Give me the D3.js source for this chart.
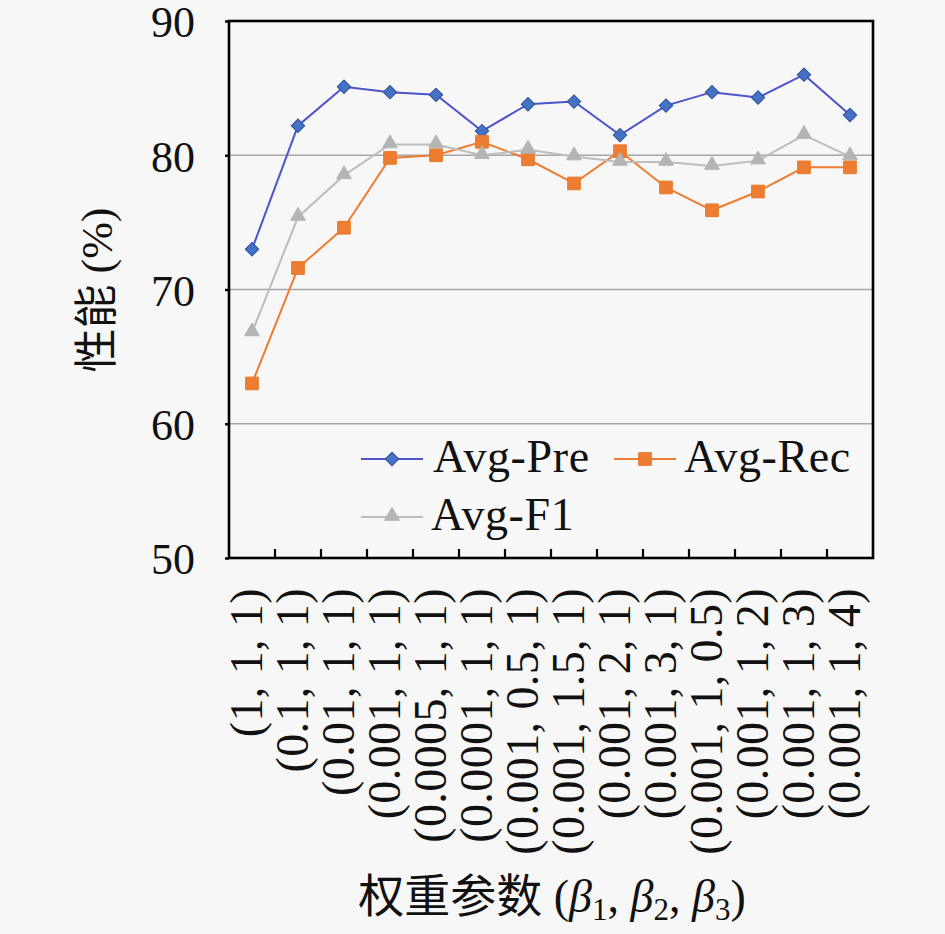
<!DOCTYPE html>
<html>
<head>
<meta charset="utf-8">
<script src="https://cdn.jsdelivr.net/npm/d3@7"></script>
<style>
  html, body { margin: 0; padding: 0; background: #f7f7f7; }
  svg { display: block; }
  svg text { font-family: "Liberation Serif", "Times New Roman", Tinos, "DejaVu Serif", serif, "Noto Sans CJK SC"; fill: #111; }
  svg text.cjk { font-family: "Liberation Serif", "DejaVu Serif", serif, "Noto Sans CJK SC"; }
</style>
</head>
<body>
<svg id="chart" width="945" height="934"></svg>
<script>
// ---- data ----
const categories = [
  "(1, 1, 1)", "(0.1, 1, 1)", "(0.01, 1, 1)", "(0.001, 1, 1)", "(0.0005, 1, 1)",
  "(0.0001, 1, 1)", "(0.001, 0.5, 1)", "(0.001, 1.5, 1)", "(0.001, 2, 1)",
  "(0.001, 3, 1)", "(0.001, 1, 0.5)", "(0.001, 1, 2)", "(0.001, 1, 3)", "(0.001, 1, 4)"
];
const avgPre = [73.0, 82.2, 85.1, 84.7, 84.5, 81.8, 83.8, 84.0, 81.5, 83.7, 84.7, 84.3, 86.0, 83.0];
const avgRec = [63.0, 71.6, 74.6, 79.8, 80.0, 81.0, 79.7, 77.9, 80.3, 77.6, 75.9, 77.3, 79.1, 79.1];
const avgF1  = [66.8, 75.4, 78.5, 80.8, 80.8, 80.0, 80.4, 79.9, 79.5, 79.5, 79.2, 79.6, 81.5, 79.9];
const yTicks = [50, 60, 70, 80, 90];
const gridValues = [60, 70, 80];
const seriesNames = ["Avg-Pre", "Avg-Rec", "Avg-F1"];

// ---- layout ----
const W = 945, H = 934;
const margin = { left: 229, top: 21, right: 72, bottom: 376 };
const innerW = W - margin.left - margin.right;
const innerH = H - margin.top - margin.bottom;
const FONT = '"Liberation Serif", "Times New Roman", Tinos, "DejaVu Serif", serif';

const svg = d3.select("#chart");
svg.append("rect").attr("width", W).attr("height", H).attr("fill", "#f7f7f7");

const g = svg.append("g").attr("transform", `translate(${margin.left},${margin.top})`);

const x = d3.scaleBand().domain(categories).range([0, innerW]).padding(0);
const y = d3.scaleLinear().domain([50, 90]).range([innerH, 0]);
const cx = c => x(c) + x.bandwidth() / 2;

// gridlines
g.append("g").selectAll("line").data(gridValues).join("line")
  .attr("x1", 0).attr("x2", innerW)
  .attr("y1", d => y(d)).attr("y2", d => y(d))
  .attr("stroke", "#a6a6a6").attr("stroke-width", 1.6);

// y axis
const yAxis = g.append("g").call(
  d3.axisLeft(y).tickValues(yTicks).tickSize(4).tickPadding(30).tickFormat(d3.format("d"))
);
yAxis.attr("font-family", FONT);
yAxis.select(".domain").remove();
yAxis.selectAll(".tick line").attr("stroke", "#000").attr("stroke-width", 2.5);
yAxis.selectAll(".tick text")
  .attr("font-family", FONT)
  .attr("font-size", 44).attr("fill", "#111").attr("dy", "0.36em");

// x axis ticks: inward at category boundaries
const boundaries = categories.slice(1).map(c => x(c));
g.append("g").selectAll("line").data(boundaries).join("line")
  .attr("x1", d => d).attr("x2", d => d)
  .attr("y1", innerH).attr("y2", innerH - 9)
  .attr("stroke", "#000").attr("stroke-width", 2.2);

// frame
g.append("rect").attr("x", 0).attr("y", 0).attr("width", innerW).attr("height", innerH)
  .attr("fill", "none").attr("stroke", "#000").attr("stroke-width", 2.6);

// x labels
g.append("g").selectAll("text").data(categories).join("text")
  .attr("transform", d => `translate(${cx(d) - 2},${innerH + 30}) rotate(-90)`)
  .attr("text-anchor", "end")
  .attr("dy", "0.27em")
  .attr("font-family", FONT)
  .attr("font-size", 46)
  .attr("letter-spacing", 0.4)
  .text(d => d);

// series definitions
const series = [
  { name: seriesNames[0], values: avgPre, line: "#4b55c9", fill: "#4472c4", stroke: "#2f4f9a", shape: "diamond" },
  { name: seriesNames[1], values: avgRec, line: "#ed7d31", fill: "#ed7d31", stroke: "#e8772c", shape: "square" },
  { name: seriesNames[2], values: avgF1,  line: "#bdbdbd", fill: "#b4b4b4", stroke: "#b4b4b4", shape: "triangle" }
];

function symbolPath(shape) {
  if (shape === "diamond") return d3.symbol().type(d3.symbolSquare).size(90)();
  if (shape === "square") return d3.symbol().type(d3.symbolSquare).size(160)();
  return d3.symbol().type(d3.symbolTriangle).size(95)();
}
function symbolTransform(shape, px, py) {
  if (shape === "diamond") return `translate(${px},${py}) rotate(45)`;
  if (shape === "triangle") return `translate(${px},${py - 1})`;
  return `translate(${px},${py})`;
}

const line = d3.line().x((d, i) => cx(categories[i])).y(d => y(d));

series.forEach(s => {
  const sg = g.append("g");
  sg.append("path").datum(s.values)
    .attr("d", line).attr("fill", "none")
    .attr("stroke", s.line).attr("stroke-width", 2);
  sg.selectAll("path.m").data(s.values).join("path")
    .attr("class", "m")
    .attr("d", symbolPath(s.shape))
    .attr("transform", (d, i) => symbolTransform(s.shape, cx(categories[i]), y(d)))
    .attr("fill", s.fill).attr("stroke", s.stroke).attr("stroke-width", 1);
});

// legend
const legendItems = [
  { s: series[0], lx: 361, ly: 459, tx: 433 },
  { s: series[1], lx: 614, ly: 459, tx: 684 },
  { s: series[2], lx: 361, ly: 517, tx: 431 }
];
const lg = svg.append("g");
lg.append("rect").attr("x", 346).attr("y", 432).attr("width", 525).attr("height", 114)
  .attr("fill", "#f8f8f8");
legendItems.forEach(it => {
  lg.append("line").attr("x1", it.lx).attr("x2", it.lx + 62)
    .attr("y1", it.ly).attr("y2", it.ly)
    .attr("stroke", it.s.line).attr("stroke-width", 2);
  lg.append("path").attr("d", symbolPath(it.s.shape))
    .attr("transform", symbolTransform(it.s.shape, it.lx + 31, it.ly))
    .attr("fill", it.s.fill).attr("stroke", it.s.stroke).attr("stroke-width", 1);
  lg.append("text").attr("x", it.tx).attr("y", it.ly + 13)
    .attr("font-family", FONT)
    .attr("font-size", 46).attr("letter-spacing", 0.6).text(it.s.name);
});

// y title
svg.append("text")
  .attr("class", "cjk")
  .attr("transform", `translate(97,290) rotate(-90)`)
  .attr("text-anchor", "middle").attr("dy", "0.35em")
  .attr("font-size", 44)
  .text("性能 (%)");

// x title
const xt = svg.append("text")
  .attr("class", "cjk")
  .attr("x", 552).attr("y", 912)
  .attr("text-anchor", "middle")
  .attr("font-size", 46);
xt.append("tspan").text("权重参数 (");
[1, 2, 3].forEach((n, i) => {
  xt.append("tspan").attr("font-style", "italic").text("β");
  xt.append("tspan").attr("font-size", 31).attr("dy", 8).text(n);
  xt.append("tspan").attr("dy", -8).text(i < 2 ? ", " : ")");
});
</script>
</body>
</html>
